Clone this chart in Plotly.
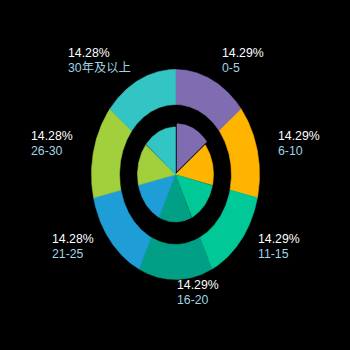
import numpy as np
import plotly.graph_objects as go

# ---- data ----
categories = ["0-5", "6-10", "11-15", "16-20", "21-25", "26-30", "30年及以上"]
outer_values = [1, 1, 1, 1, 1, 1, 1]
inner_values = [1, 1, 1, 1, 1, 1, 1]
colors = ["#7f6cb1", "#ffb400", "#00c896", "#009f86", "#1f9dd6", "#a2cf3c", "#33c5c3"]
selected_inner = 0  # index of the pulled-out inner slice


def percents(values, precision=2):
    """Largest-remainder percentages (sum to exactly 100)."""
    vals = np.asarray(values, dtype=float)
    scale = 10 ** precision
    raw = vals / vals.sum() * 100 * scale
    base = np.floor(raw)
    rem = raw - base
    need = int(round(100 * scale - base.sum()))
    order = np.argsort(-rem, kind="stable")
    base[order[:need]] += 1
    return base / scale


FONT = "Liberation Sans, Noto Sans CJK SC, sans-serif"
FS = 12.3


def text_width(s, size=FS):
    w = 0.0
    for ch in s:
        if ord(ch) > 0x2E80:
            w += 1.0
        elif ch.isdigit():
            w += 0.556
        elif ch == "%":
            w += 0.889
        elif ch == ".":
            w += 0.278
        elif ch == "-":
            w += 0.333
        else:
            w += 0.556
    return w * size


# ---- geometry of the (vertically stretched) chart ----
RX_OUT, RX_RING_IN, RX_PIE = 84, 56, 38
Y_STRETCH = 1.25
PULL = 3.5


def ell(r, th):
    return r * np.sin(th), r * Y_STRETCH * np.cos(th)


def angles(values):
    v = np.asarray(values, dtype=float)
    cum = np.concatenate([[0], np.cumsum(v)]) / v.sum() * 2 * np.pi
    return cum[:-1], cum[1:]


fig = go.Figure()

# outer ring
s0, s1 = angles(outer_values)
for i, cat in enumerate(categories):
    th = np.linspace(s0[i], s1[i], 80)
    xo, yo = ell(RX_OUT, th)
    xi, yi = ell(RX_RING_IN, th[::-1])
    fig.add_trace(go.Scatter(
        x=np.concatenate([xo, xi, xo[:1]]), y=np.concatenate([yo, yi, yo[:1]]),
        mode="lines", fill="toself", fillcolor=colors[i],
        line=dict(color=colors[i], width=0.6), hoverinfo="text", text=cat,
        showlegend=False))

# inner pie
t0, t1 = angles(inner_values)
for i, cat in enumerate(categories):
    th = np.linspace(t0[i], t1[i], 60)
    xa, ya = ell(RX_PIE, th)
    xs = np.concatenate([[0], xa, [0]])
    ys = np.concatenate([[0], ya, [0]])
    if i == selected_inner:
        mid = (t0[i] + t1[i]) / 2
        xs = xs + PULL * np.sin(mid)
        ys = ys + PULL * np.cos(mid)
    fig.add_trace(go.Scatter(
        x=xs, y=ys, mode="lines", fill="toself", fillcolor=colors[i],
        line=dict(color=colors[i], width=0.6), hoverinfo="text", text=cat,
        showlegend=False))

# labels for outer ring (two lines, left-aligned block)
pct = percents(outer_values)
LINE_GAP = 15
for i, cat in enumerate(categories):
    mid = (s0[i] + s1[i]) / 2
    sx, cy = np.sin(mid), np.cos(mid)
    yc = 1.162 * RX_OUT * Y_STRETCH * cy + 4
    top = f"{pct[i]:.2f}%"
    if sx > -0.01:
        left_x = 1.24 * RX_OUT * sx - 1
    else:
        left_x = 1.274 * RX_OUT * sx - max(text_width(top), text_width(cat))
    fig.add_annotation(
        x=left_x, y=yc + LINE_GAP / 2, xref="x", yref="y", showarrow=False,
        xanchor="left", yanchor="middle", text=top,
        font=dict(color="#ffffff", size=FS, family=FONT))
    fig.add_annotation(
        x=left_x, y=yc - LINE_GAP / 2, xref="x", yref="y", showarrow=False,
        xanchor="left", yanchor="middle", text=cat,
        font=dict(color="#9fd4e6", size=FS, family=FONT))

fig.update_layout(
    width=350, height=350, margin=dict(l=0, r=0, t=0, b=0),
    paper_bgcolor="#000000", plot_bgcolor="#000000",
    xaxis=dict(range=[-175.5, 174.5], visible=False, fixedrange=True),
    yaxis=dict(range=[-175.5, 174.5], visible=False, fixedrange=True),
    showlegend=False,
)

fig.write_html("out.html")
